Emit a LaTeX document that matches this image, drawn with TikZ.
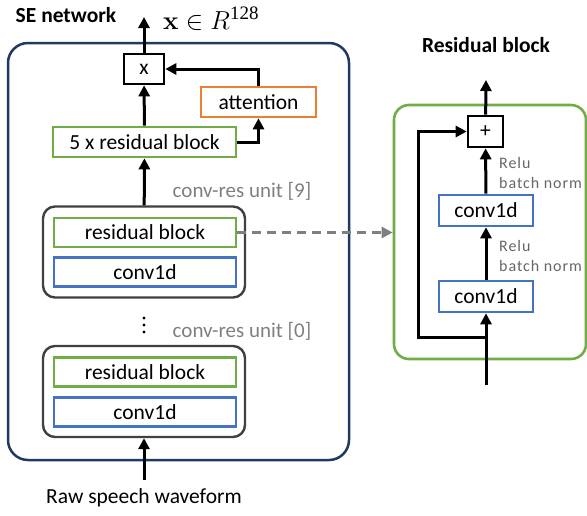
\RequirePackage{fix-cm}
\documentclass[tikz,border=0pt]{standalone}
\usepackage[no-math]{fontspec}
\setmainfont{Carlito}
\newfontfamily\serifnum{Liberation Serif}
\usetikzlibrary{positioning,arrows.meta}

\definecolor{navy}{HTML}{1F3864}
\definecolor{resgreen}{HTML}{70AD47}
\definecolor{convblue}{HTML}{4472C4}
\definecolor{attorange}{HTML}{ED7D31}
\definecolor{unitgray}{HTML}{404040}
\definecolor{notegray}{HTML}{7F7F7F}
\definecolor{relugray}{HTML}{666666}

\tikzset{
  lbl/.style={font=\fontsize{21.5}{25}\selectfont},
  title/.style={font=\fontsize{21.5}{25}\selectfont\bfseries},
  note/.style={font=\fontsize{21}{25}\selectfont, text=notegray},
  relu/.style={font=\fontsize{16}{19}\selectfont\addfontfeature{LetterSpace=6}, text=relugray, anchor=west, inner sep=0pt},
  box/.style={draw, line width=2.6pt, inner sep=0pt, lbl},
  resbox/.style={box, draw=resgreen, minimum width=182pt, minimum height=29pt},
  convbox/.style={box, draw=convblue, minimum width=182pt, minimum height=29pt},
  unitbox/.style={draw=unitgray, line width=2.4pt, rounded corners=12pt, minimum width=202pt, minimum height=91pt},
  opbox/.style={box, draw=black, minimum width=40pt, minimum height=30pt},
  flow/.style={-{Triangle[length=11pt,width=11pt]}, line width=3pt},
  link/.style={-{Triangle[length=11pt,width=11pt]}, line width=2.6pt, draw=notegray, dash pattern=on 9pt off 6pt},
}

\begin{document}
\begin{tikzpicture}[x=1pt,y=-1pt]
\useasboundingbox (0,0) rectangle (587,515);

% SE network
\draw[navy, line width=2.5pt, rounded corners=20pt] (8,43) rectangle (349,460);
\node[title] (setitle) at (66,15) {SE network};
\node[font=\fontsize{26}{30}\selectfont, anchor=base west, inner sep=0pt] (emb) at (163,29)
  {$\mathbf{x}\in R$\raisebox{10pt}{\fontsize{19}{22}\selectfont\serifnum 128}};

\node[opbox] (xmul) at (144,69) {x};
\node[box, draw=attorange, minimum width=115pt, minimum height=30pt] (att) at (258.5,102) {attention};
\node[box, draw=resgreen, minimum width=183pt, minimum height=30pt] (res5) at (144.5,142) {5 x residual block};

\node[note] (tag9) at (242,191) {conv-res unit [9]};
\node[unitbox] (unit9) at (144,252) {};
\node[resbox] (res9) at (145,232.5) {residual block};
\node[convbox] (conv9) at (145,272) {conv1d};

\foreach \y in {318,325,332}
  \fill (144,\y) circle (1.6pt);
\node[note] (tag0) at (242,331) {conv-res unit [0]};
\node[unitbox] (unit0) at (144,391.5) {};
\node[resbox] (res0) at (145,372) {residual block};
\node[convbox] (conv0) at (145,412) {conv1d};

\node[lbl] (wave) at (144,498) {Raw speech waveform};
\coordinate (out) at (144,17);
\coordinate (in) at (144,480);

\draw[flow] (xmul) -- (out);
\draw[flow] (res5) -- (xmul);
\draw[flow] (att.north) |- (xmul.east);
\draw[flow] (res5.east) -| (att.south);
\draw[flow] (unit9) -- (res5);
\draw[flow] (in) -- (unit0);

% Residual block
\node[title] (rtitle) at (486,45) {Residual block};
\node[draw=resgreen, line width=2.6pt, rounded corners=15pt, minimum width=192pt, minimum height=254pt] (panel) at (490,232) {};
\node[opbox, minimum width=35pt, minimum height=31pt] (plus) at (485.5,131.5) {+};
\node[box, draw=convblue, minimum width=94pt, minimum height=31pt] (convA) at (486,210.5) {conv1d};
\node[box, draw=convblue, minimum width=94pt, minimum height=31pt] (convB) at (486,296.5) {conv1d};
\node[relu] (reluA) at (499,163) {Relu};
\node[relu] (bnA) at (499,183) {batch norm};
\node[relu] (reluB) at (499,246) {Relu};
\node[relu] (bnB) at (499,266) {batch norm};
\coordinate (rin) at (486,385);
\coordinate (rout) at (486,80);
\coordinate (rsplit) at (486,337);
\coordinate (skip) at (418,337);

\draw[flow] (rin) -- (convB);
\draw[flow] (convB) -- (convA);
\draw[flow] (convA) -- (plus);
\draw[flow] (plus) -- (rout);
\draw[flow] (rsplit) -- (skip) |- (plus.west);

\draw[link] (res9.east) -- (res9.east -| panel.west);
\end{tikzpicture}
\end{document}
